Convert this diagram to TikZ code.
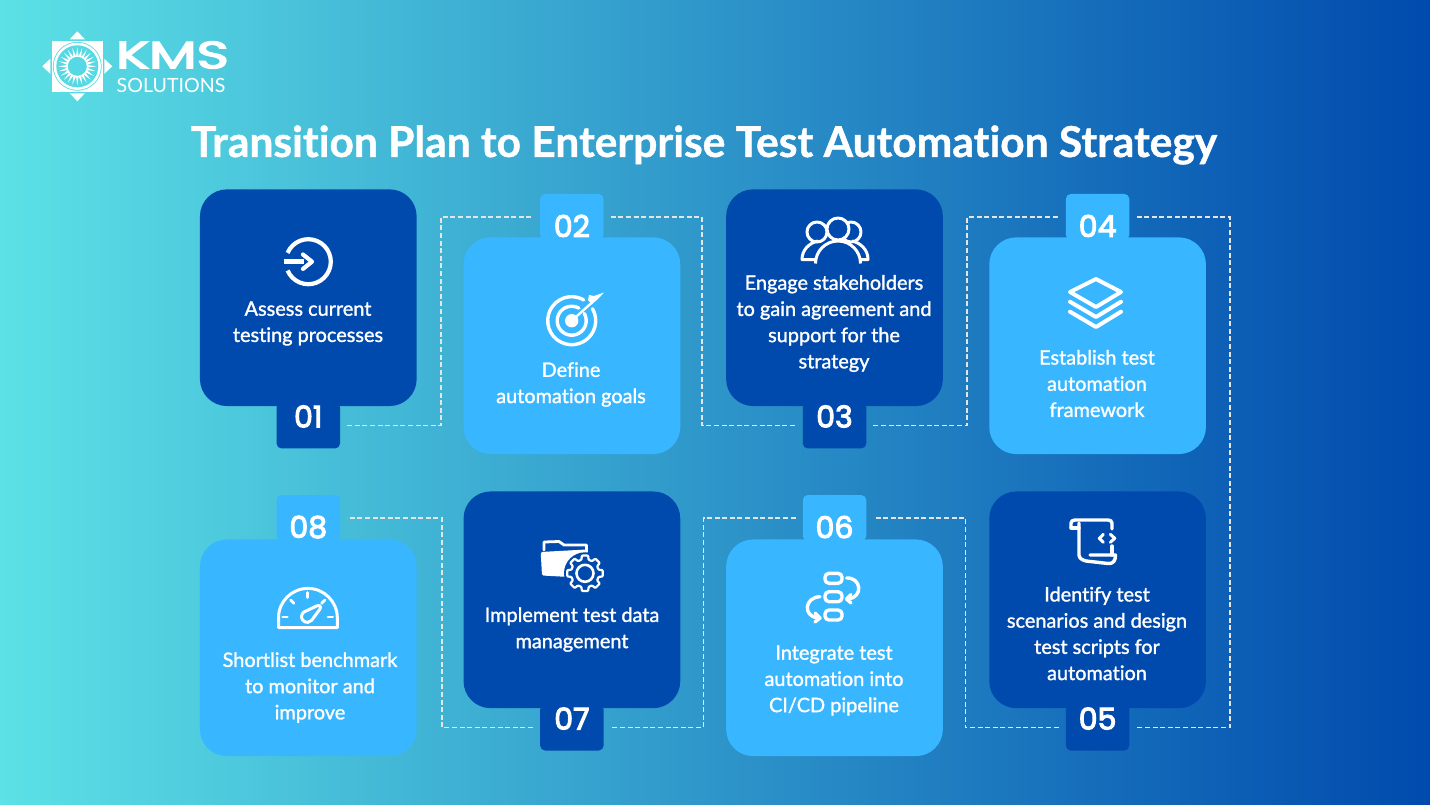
\documentclass[tikz,border=0pt]{standalone}
\usepackage{fontspec}
\usepackage{tikz}
\usetikzlibrary{positioning}
\setmainfont{Lato}[Ligatures=NoCommon]
\newfontfamily\titlefont{Lato Bold}[Ligatures=NoCommon, FakeBold=1]
\newfontfamily\cardfont{Lato}[Ligatures=NoCommon, FakeBold=1.4]
\newfontfamily\numfont{Poppins}[FakeBold=3.5]
\definecolor{bgleft}{HTML}{5CE1E6}
\definecolor{bgright}{HTML}{004AAD}
\definecolor{darkcard}{HTML}{004AAD}
\definecolor{lightcard}{HTML}{38B6FF}
\definecolor{logoteal}{HTML}{57D9E3}
\begin{document}
\begin{tikzpicture}[
  x=1pt, y=-1pt,
  darkbox/.style={rectangle, fill=darkcard, rounded corners=27pt, minimum width=216.7pt, minimum height=216.7pt, inner sep=0pt},
  lightbox/.style={darkbox, fill=lightcard},
  darktag/.style={rectangle, fill=darkcard, rounded corners=5pt, minimum width=63.5pt, minimum height=46pt, inner sep=0pt},
  lighttag/.style={darktag, fill=lightcard},
  num/.style={text=white, inner sep=0pt, font=\numfont\fontsize{30}{30}\selectfont},
  cardtext/.style={text=white, align=center, inner sep=0pt, font=\cardfont\fontsize{19.9}{26.2}\selectfont},
  link/.style={draw=white!80!gray, line width=1.3pt, dash pattern=on 5pt off 2.6pt, shorten <=7pt, shorten >=7pt},
  iconline/.style={draw=white, line width=3.4pt, line cap=round, line join=round}
]
\useasboundingbox (0,0) rectangle (1430,804);
\shade[left color=bgleft, right color=bgright] (0,0) rectangle (1430,804);

\node[text=white, font=\titlefont\fontsize{42.5}{40}\selectfont, inner sep=0pt] (title) at (704,145) {Transition Plan to Enterprise Test Automation Strategy};

\foreach \a in {0,90,180,270}
  \fill[white, shift={(77.3,66.3)}, rotate=\a] (35pt,0pt) -- (27pt,7.5pt) -- (27pt,-7.5pt) -- cycle;
\fill[white] (52,41) rectangle (102.6,91.6);
\fill[logoteal] (77.3,66.3) circle (24.4pt);
\fill[white] (77.3,66.3) circle (23.6pt);
\fill[logoteal] (77.3,66.3) circle (21pt);
\fill[white, shift={(77.3,66.3)}] (19pt,0pt) \foreach \a in {0,15,...,345} { -- (\a:19pt) -- (\a+7.5:10pt)} -- cycle;
\fill[logoteal] (77.3,66.3) circle (9.5pt);
\node[text=white, font=\numfont\fontsize{38}{38}\selectfont, xscale=1.45, inner sep=0pt] (kms) at (172.5,55) {KMS};
\node[text=white, font=\fontsize{19.6}{19}\selectfont, inner sep=0pt] (sol) at (171,85.5) {SOLUTIONS};

\node[darkbox] (b1) at (308.3,297.7) {};
\node[lightbox, right=46.5pt of b1, yshift=-48pt] (b2) {};
\node[darkbox, right=45.5pt of b2, yshift=48pt] (b3) {};
\node[lightbox, right=46pt of b3, yshift=-48pt] (b4) {};
\node[lightbox, below=133pt of b1] (b8) {};
\node[darkbox, below=37pt of b2] (b7) {};
\node[lightbox, below=133pt of b3] (b6) {};
\node[darkbox, below=37pt of b4] (b5) {};

\node[darktag, below=-4pt of b1] (t1) {};
\node[lighttag, above=-3pt of b2] (t2) {};
\node[darktag, below=-4pt of b3] (t3) {};
\node[lighttag, above=-3pt of b4] (t4) {};
\node[darktag, below=-4pt of b5] (t5) {};
\node[lighttag, above=-2pt of b6] (t6) {};
\node[darktag, below=-4pt of b7] (t7) {};
\node[lighttag, above=-2pt of b8] (t8) {};

\foreach \n/\s in {1/9,3/9,5/9,7/9,2/-9,4/-9,6/-9,8/-9}
  \node[num, yshift=\s pt] (n\n) at (t\n) {0\n};

\node[cardtext] (l1) at (308,323.5) {Assess current\\testing processes};
\node[cardtext] (l2) at (571,384.5) {Define\\automation goals};
\node[cardtext] (l3) at (834,323.5) {Engage stakeholders\\to gain agreement and\\support for the\\strategy};
\node[cardtext] (l4) at (1097,383.5) {Establish test\\automation\\framework};
\node[cardtext] (l5) at (1097,633.5) {Identify test\\scenarios and design\\test scripts for\\automation};
\node[cardtext] (l6) at (834,680.5) {Integrate test\\automation into\\CI/CD pipeline};
\node[cardtext] (l7) at (572,629.5) {Implement test data\\management};
\node[cardtext] (l8) at (310,687.5) {Shortlist benchmark\\to monitor and\\improve};

\foreach \a/\b/\c/\d/\x/\y in {t1/east/t2/west/441/321, t2/east/t3/west/702/321, t3/east/t4/west/967/321,
                               t4/east/t5/east/1230/470, t5/west/t6/east/965.5/620, t6/west/t7/east/703.5/620, t7/west/t8/east/442/620}
  \draw[link] (\a.\b) -| (\x,\y) |- (\c.\d);

\draw[iconline, line width=4.2pt, line cap=butt] (308.3,261.7) ++(157:22.5pt) arc (157:-157:22.5pt);
\draw[iconline, line width=4.6pt, line cap=butt] (283.5,261.7) -- (304,261.7);
\draw[iconline, line width=4.2pt] (303,254.5) -- (312,261.7) -- (303,268.9);

\draw[iconline, line width=3.4pt] (571.7,320.7) ++(30:24pt) arc (30:-300:24pt);
\draw[iconline, line width=3.4pt] (571.7,320.7) ++(30:14.5pt) arc (30:-300:14.5pt);
\fill[white] (571.7,320.7) circle (6.7pt);
\draw[iconline, line width=2.4pt] (571.7,320.7) -- (592,302.5);
\fill[white] (589,295) -- (594,296) -- (604,292.5) -- (598,299) -- (592,304) -- (588,300) -- cycle;

\draw[iconline, line width=3pt] (817,232) circle (10pt);
\draw[iconline, line width=3pt] (851,232) circle (10pt);
\draw[iconline, line width=3pt, line cap=butt] (816,259.5) -- (802,259.5) .. controls (802,250) and (809,243) .. (818,241);
\draw[iconline, line width=3pt, line cap=butt] (853,259.5) -- (868,259.5) .. controls (868,250) and (861,243) .. (852,241);
\draw[iconline, line width=3pt, fill=darkcard] (838,229) circle (11pt);
\draw[iconline, line width=3pt, fill=darkcard, line cap=butt] (815.5,263.5) arc (180:0:22.5pt);

\draw[iconline, line width=4pt] (1096,279) -- (1121,292) -- (1096,307) -- (1070,292) -- cycle;
\draw[iconline, line width=4pt] (1070,301.7) -- (1096,317) -- (1121,301.7);
\draw[iconline, line width=4pt] (1070,311.7) -- (1096,327) -- (1121,311.7);

\draw[iconline] (1071,528) -- (1071,523) .. controls (1071,521) and (1073,520) .. (1075,520) -- (1108,520) .. controls (1110,520) and (1112,521) .. (1112,523) -- (1112,529);
\draw[iconline] (1071,528) -- (1079,528);
\draw[iconline] (1079,523) -- (1079,555) .. controls (1079,558) and (1082,560) .. (1086,561) -- (1108,563.5) .. controls (1113,564) and (1115.5,561) .. (1115.5,555) -- (1090,555);
\draw[iconline] (1112,546) -- (1112,555);
\draw[iconline, line width=3pt] (1103.4,534.3) -- (1099.3,538.3) -- (1103.4,542.3);
\draw[iconline, line width=3pt] (1110.3,534.3) -- (1114.8,538.3) -- (1110.3,542.3);

\draw[iconline, rounded corners=4pt] (825,573.3) rectangle (842,583.3);
\draw[iconline, rounded corners=4pt] (825,591.7) rectangle (842,601.7);
\draw[iconline, rounded corners=4pt] (825,610) rectangle (842,620);
\draw[iconline] (846.5,578) .. controls (861,577) and (864,597) .. (848,599);
\draw[iconline] (851,594.5) -- (846.5,599) -- (851,603);
\draw[iconline] (820,596.7) .. controls (805,597) and (802,616) .. (818,618);
\draw[iconline] (815,613) -- (820,618) -- (815,622);

\draw[iconline, line width=2.8pt] (544,550) -- (544,542) -- (559,541.5) -- (564,545) -- (586.5,545) -- (586.5,552);
\fill[white, rounded corners=1.5pt] (540.7,552) -- (586,549.5) -- (588,578) -- (542,575.5) -- cycle;
\fill[darkcard] (585,573.3) circle (21pt);
\begin{scope}[shift={(585,573.3)}]
  \draw[iconline, line width=2.2pt, fill=darkcard, rounded corners=0.8pt] (-10:18pt)
    \foreach \a in {0,45,...,315} { -- (\a-10:18pt) -- (\a+10:18pt) -- (\a+15:14pt) -- (\a+30:14pt)} -- cycle;
  \draw[iconline, line width=2.6pt] (0,0) circle (8.5pt);
\end{scope}

\draw[iconline, line width=3pt, line cap=butt] (278.5,627.7) -- (337.3,627.7) -- (337.3,617.8) arc (0:180:29.4pt) -- cycle;
\draw[iconline, line width=2.8pt] (307.7,592.5) -- (307.7,597.5);
\draw[iconline, line width=2.8pt] (290.7,600) -- (294,603.3);
\draw[iconline, line width=2.8pt] (325,600) -- (321.5,603.3);
\draw[iconline, line width=2.8pt] (282.7,617) -- (287.3,617);
\draw[iconline, line width=2.8pt] (328,617) -- (332.7,617);
\draw[iconline, line width=3pt] (316.5,606) -- (304,612) arc (125:320:5.7pt) -- (320,609) .. controls (321.5,606) and (319,604.8) .. (316.5,606) -- cycle;
\end{tikzpicture}
\end{document}
